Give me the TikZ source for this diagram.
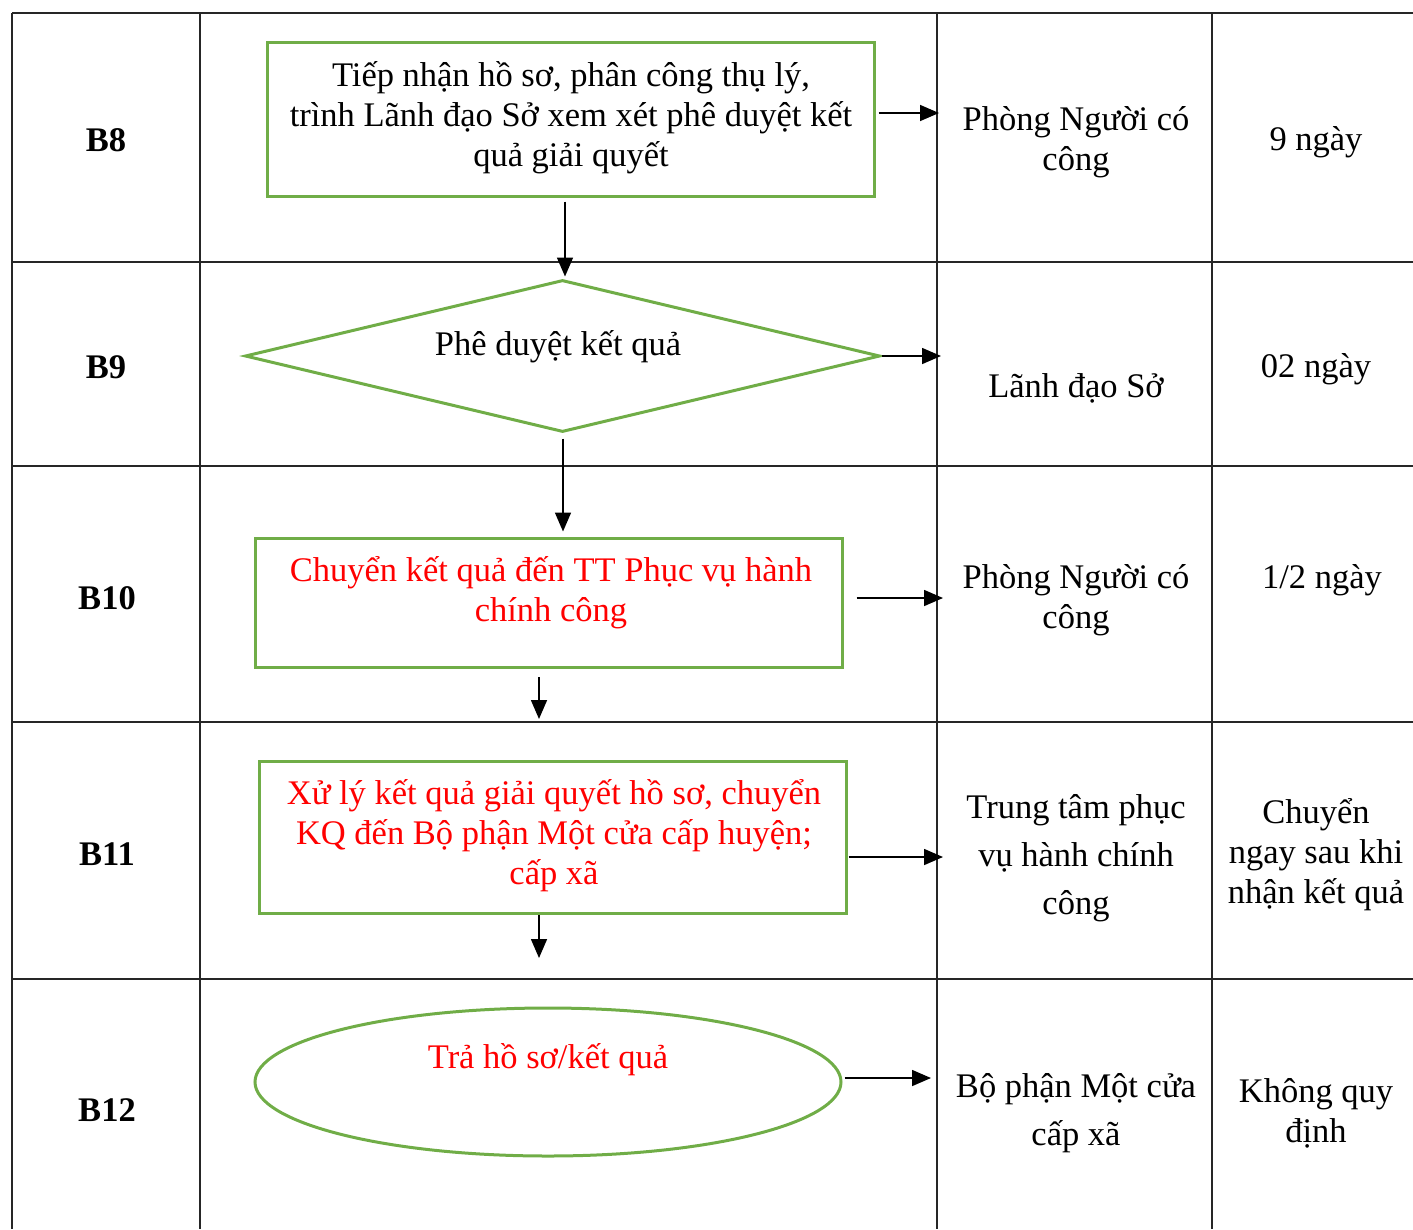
\documentclass[tikz,border=0pt]{standalone}
\usepackage{fontspec}
\setmainfont{Liberation Serif}
\usetikzlibrary{shapes.geometric,arrows.meta,calc}
\definecolor{stepgreen}{HTML}{70AD47}
\definecolor{steptextred}{HTML}{FF0000}
\begin{document}
\begin{tikzpicture}[x=1pt,y=-1pt,
  gridline/.style={line width=1.3pt,black!85},
  shapeline/.style={draw=stepgreen,line width=3pt,inner sep=0pt},
  gbox/.style={shapeline,rectangle},
  gdia/.style={shapeline,diamond},
  gell/.style={shapeline,ellipse},
  arr/.style={line width=1.6pt,-{Triangle[length=19pt,width=16pt]}},
  txt/.style={font=\fontsize{34.5}{40}\selectfont,align=center,inner sep=0pt},
  wtxt/.style={font=\fontsize{34.5}{48}\selectfont,align=center,inner sep=0pt},
  lbl/.style={font=\bfseries\fontsize{34.5}{40}\selectfont,inner sep=0pt},
  rtxt/.style={txt,text=steptextred}
]
\useasboundingbox (0,0) rectangle (1413,1229);
% table grid
\foreach \yy in {13,262,466,722,979} \draw[gridline] (12,\yy) -- (1413,\yy);
\foreach \xx in {12,200,937,1212} \draw[gridline] (\xx,13) -- (\xx,1229);

% step labels
\node[lbl] (l8) at (106,140) {B8};
\node[lbl] (l9) at (106,367) {B9};
\node[lbl] (l10) at (107,598) {B10};
\node[lbl] (l11) at (107,854) {B11};
\node[lbl] (l12) at (107,1110) {B12};

% shapes
\node[gbox,minimum width=607pt,minimum height=154pt] (box8) at (570.5,119) {};
\node[txt] (t8) at (571,118) {Tiếp nhận hồ sơ, phân công thụ lý,\\trình Lãnh đạo Sở xem xét phê duyệt kết\\quả giải quyết};

\node[gdia,minimum width=635pt,minimum height=152pt] (dia) at (562.5,356) {};
\node[txt] (t9) at (558,347) {Phê duyệt kết quả};

\node[gbox,minimum width=587pt,minimum height=129pt] (box10) at (548.5,602.5) {};
\node[rtxt] (t10) at (551,593) {Chuyển kết quả đến TT Phục vụ hành\\chính công};

\node[gbox,minimum width=587pt,minimum height=152pt] (box11) at (552.5,837) {};
\node[rtxt] (t11) at (554,836) {Xử lý kết quả giải quyết hồ sơ, chuyển\\KQ đến Bộ phận Một cửa cấp huyện;\\cấp xã};

\node[gell,minimum width=586pt,minimum height=148pt] (ell) at (548,1082) {};
\node[rtxt] (t12) at (548,1060) {Trả hồ sơ/kết quả};

% responsible units
\node[txt] (r8) at (1076,142) {Phòng Người có\\công};
\node[txt] (r9) at (1076,388) {Lãnh đạo Sở};
\node[txt] (r10) at (1076,600) {Phòng Người có\\công};
\node[wtxt] (r11) at (1076,858) {Trung tâm phục\\vụ hành chính\\công};
\node[wtxt] (r12) at (1076,1113) {Bộ phận Một cửa\\cấp xã};

% durations
\node[txt] (d8) at (1316,142) {9 ngày};
\node[txt] (d9) at (1316,369) {02 ngày};
\node[txt] (d10) at (1322,580) {1/2 ngày};
\node[txt] (d11) at (1316,855) {Chuyển\\ngay sau khi\\nhận kết quả};
\node[txt] (d12) at (1316,1113) {Không quy\\định};

% free arrow ends
\coordinate (e8) at (939,113);
\coordinate (e9) at (941,356);
\coordinate (e10) at (943,598);
\coordinate (e11) at (943,857);
\coordinate (e12) at (931,1078);
\coordinate (s10) at (539,677);
\coordinate (f10) at (539,719);
\coordinate (s11) at (539,915);
\coordinate (f11) at (539,958);

% connectors
\draw[arr] ($(box8.south)+(-5.5,4)$) -- ($(dia.north)+(2.5,-2)$);
\draw[arr] ($(box8.east)+(3,-6)$) -- (e8);
\draw[arr] (dia.east) -- (e9);
\draw[arr] ($(dia.south)+(0.5,5)$) -- ($(box10.north)+(14.5,-5)$);
\draw[arr] ($(box10.east)+(13,-4.5)$) -- (e10);
\draw[arr] (s10) -- (f10);
\draw[arr] ($(box11.east)+(1,20)$) -- (e11);
\draw[arr] (s11) -- (f11);
\draw[arr] ($(ell.east)+(2,-4)$) -- (e12);
\end{tikzpicture}
\end{document}
